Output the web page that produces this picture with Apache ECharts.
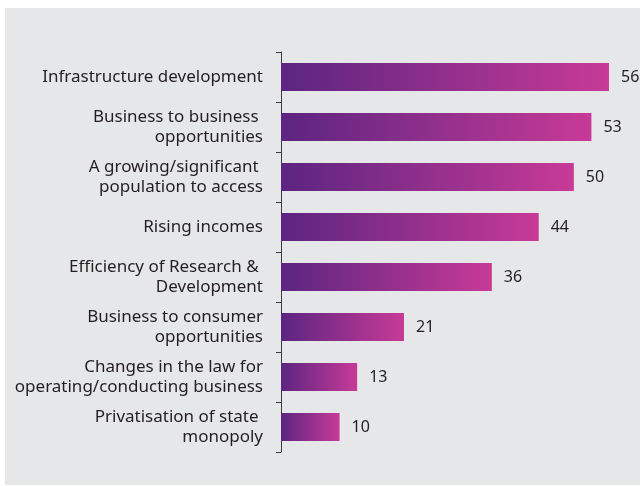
<!DOCTYPE html>
<html>
<head>
<meta charset="utf-8">
<script src="https://cdn.jsdelivr.net/npm/echarts@6/dist/echarts.min.js"></script>
<style>
  html, body { margin: 0; padding: 0; background: #ffffff; }
  #chart { width: 640px; height: 486px; }
</style>
</head>
<body>
<div id="chart"></div>
<script>
// Opportunities ranked by share of respondents
const categories = [
  'Infrastructure development',
  'Business to business \nopportunities',
  'A growing/significant \npopulation to access',
  'Rising incomes',
  'Efficiency of Research & \nDevelopment',
  'Business to consumer\nopportunities',
  'Changes in the law for\noperating/conducting business',
  'Privatisation of state \nmonopoly'
];
const values = [56, 53, 50, 44, 36, 21, 13, 10];

const chart = echarts.init(document.getElementById('chart'), null, { renderer: 'canvas' });

const barGradient = new echarts.graphic.LinearGradient(0, 0, 1, 0, [
  { offset: 0, color: '#5b2581' },
  { offset: 1, color: '#c83a97' }
]);

chart.setOption({
  animation: false,
  backgroundColor: '#ffffff',
  graphic: [{
    type: 'rect',
    z: -10,
    silent: true,
    shape: { x: 5, y: 8, width: 635, height: 477 },
    style: { fill: '#e6e7e9' }
  }],
  grid: { left: 281, top: 52, height: 400, width: 351.4, containLabel: false },
  xAxis: {
    type: 'value',
    min: 0,
    max: 60,
    show: false
  },
  yAxis: {
    type: 'category',
    inverse: true,
    data: categories,
    axisLine: { show: true, lineStyle: { color: '#3a3a3a', width: 1 } },
    axisTick: { show: true, length: 5, lineStyle: { color: '#3a3a3a', width: 1 } },
    axisLabel: {
      margin: 18,
      color: '#231f20',
      fontFamily: 'Noto Sans',
      fontSize: 17,
      lineHeight: 20,
      align: 'right'
    },
    splitLine: { show: false }
  },
  series: [{
    type: 'bar',
    data: values,
    barWidth: 28,
    itemStyle: { color: barGradient },
    label: {
      show: true,
      position: 'right',
      distance: 12,
      color: '#231f20',
      fontFamily: 'Noto Sans',
      fontSize: 16
    }
  }]
});
</script>
</body>
</html>
